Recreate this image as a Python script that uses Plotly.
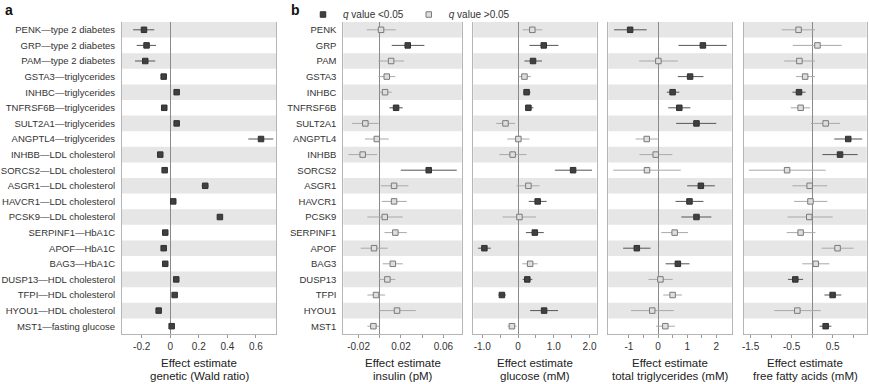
import plotly.graph_objects as go

# ---------------- data ----------------
labels_a = ["PENK—type 2 diabetes", "GRP—type 2 diabetes", "PAM—type 2 diabetes",
            "GSTA3—triglycerides", "INHBC—triglycerides", "TNFRSF6B—triglycerides",
            "SULT2A1—triglycerides", "ANGPTL4—triglycerides", "INHBB—LDL cholesterol",
            "SORCS2—LDL cholesterol", "ASGR1—LDL cholesterol", "HAVCR1—LDL cholesterol",
            "PCSK9—LDL cholesterol", "SERPINF1—HbA1C", "APOF—HbA1C", "BAG3—HbA1C",
            "DUSP13—HDL cholesterol", "TFPI—HDL cholesterol", "HYOU1—HDL cholesterol",
            "MST1—fasting glucose"]
genes = ["PENK", "GRP", "PAM", "GSTA3", "INHBC", "TNFRSF6B", "SULT2A1", "ANGPTL4", "INHBB",
         "SORCS2", "ASGR1", "HAVCR1", "PCSK9", "SERPINF1", "APOF", "BAG3", "DUSP13", "TFPI",
         "HYOU1", "MST1"]

# panel a: genetic (Wald ratio)
wald_est = [-0.184, -0.166, -0.175, -0.046, 0.045, -0.042, 0.045, 0.636, -0.070, -0.039,
            0.245, 0.021, 0.348, -0.035, -0.046, -0.035, 0.042, 0.031, -0.081, 0.010]
wald_lo = [-0.26, -0.235, -0.247, -0.05, 0.04, -0.046, 0.04, 0.547, -0.075, -0.043,
           0.22, 0.017, 0.343, -0.039, -0.05, -0.039, 0.038, 0.027, -0.085, 0.006]
wald_hi = [-0.112, -0.10, -0.105, -0.042, 0.05, -0.038, 0.05, 0.722, -0.065, -0.035,
           0.27, 0.025, 0.353, -0.031, -0.042, -0.031, 0.046, 0.035, -0.077, 0.014]
wald_sig = [1] * 20

# insulin (pM)
ins_est = [0.0012, 0.0264, 0.0107, 0.0066, 0.0050, 0.0154, -0.0136, -0.0028, -0.0161, 0.0462,
           0.0135, 0.0135, 0.0047, 0.0147, -0.0054, 0.0123, 0.0072, -0.0035, 0.0163, -0.0060]
ins_lo = [-0.0123, 0.0113, -0.0013, -0.0013, 0.0003, 0.0091, -0.0261, -0.0139, -0.0296, 0.0198,
          0.0009, 0.0019, -0.0117, 0.0044, -0.0180, 0.0028, -0.0004, -0.0117, -0.0004, -0.0117]
ins_hi = [0.0151, 0.0421, 0.0229, 0.0147, 0.0113, 0.0217, -0.0010, 0.0085, -0.0025, 0.0726,
          0.0270, 0.0255, 0.0217, 0.0255, 0.0075, 0.0217, 0.0147, 0.0050, 0.0340, -0.0004]
ins_sig = [0, 1, 0, 0, 0, 1, 0, 0, 0, 1, 0, 0, 0, 0, 0, 0, 0, 0, 0, 0]

# glucose (mM)
glu_est = [0.40, 0.72, 0.42, 0.18, 0.24, 0.29, -0.35, 0.01, -0.15, 1.54,
           0.29, 0.55, 0.04, 0.47, -0.94, 0.34, 0.26, -0.45, 0.73, -0.17]
glu_lo = [0.13, 0.32, 0.18, 0.01, 0.15, 0.20, -0.61, -0.30, -0.52, 1.03,
          -0.04, 0.30, -0.43, 0.22, -1.12, 0.12, 0.13, -0.55, 0.34, -0.29]
glu_hi = [0.68, 1.13, 0.67, 0.36, 0.35, 0.43, -0.08, 0.32, 0.24, 2.07,
          0.60, 0.80, 0.50, 0.72, -0.76, 0.55, 0.40, -0.34, 1.12, -0.04]
glu_sig = [0, 1, 1, 0, 1, 1, 0, 0, 0, 1, 0, 1, 0, 1, 1, 0, 1, 1, 1, 0]

# total triglycerides (mM)
tg_est = [-0.96, 1.54, 0.01, 1.10, 0.50, 0.73, 1.32, -0.39, -0.08, -0.38,
          1.47, 1.08, 1.32, 0.57, -0.73, 0.68, 0.08, 0.50, -0.20, 0.25]
tg_lo = [-1.51, 0.70, -0.65, 0.68, 0.30, 0.35, 0.62, -0.77, -0.64, -1.54,
         1.00, 0.60, 0.80, 0.11, -1.20, 0.26, -0.33, 0.18, -0.93, -0.07]
tg_hi = [-0.39, 2.36, 0.68, 1.56, 0.73, 1.11, 2.00, -0.01, 0.49, 0.78,
         1.95, 1.56, 1.83, 1.03, -0.26, 1.08, 0.50, 0.82, 0.54, 0.58]
tg_sig = [1, 1, 0, 1, 1, 1, 1, 0, 0, 0, 1, 1, 1, 0, 1, 1, 0, 0, 0, 0]

# free fatty acids (mM)
ffa_est = [-0.33, 0.13, -0.31, -0.17, -0.32, -0.28, 0.33, 0.88, 0.68, -0.61,
           -0.06, -0.04, -0.07, -0.28, 0.62, 0.09, -0.41, 0.50, -0.36, 0.33]
ffa_lo = [-0.74, -0.47, -0.68, -0.39, -0.48, -0.52, -0.03, 0.54, 0.25, -1.54,
          -0.48, -0.44, -0.60, -0.62, 0.23, -0.24, -0.59, 0.30, -0.92, 0.18]
ffa_hi = [0.07, 0.72, 0.07, 0.07, -0.16, -0.05, 0.68, 1.22, 1.11, 0.33,
          0.37, 0.37, 0.50, 0.08, 1.01, 0.42, -0.22, 0.71, 0.21, 0.47]
ffa_sig = [0, 0, 0, 0, 1, 0, 0, 1, 1, 0, 0, 0, 0, 0, 0, 0, 1, 1, 0, 1]

title_line1 = "Effect estimate"
title_line2 = ["genetic (Wald ratio)", "insulin (pM)", "glucose (mM)",
               "total triglycerides (mM)", "free fatty acids (mM)"]
tickvals = [[-0.2, 0, 0.2, 0.4, 0.6],
            [-0.02, 0, 0.02, 0.04, 0.06],
            [-1.0, -0.5, 0, 0.5, 1.0, 1.5, 2.0],
            [-1, -0.5, 0, 0.5, 1, 1.5, 2],
            [-1.5, -1.0, -0.5, 0, 0.5, 1.0]]
ticktext = [["-0.2", "0", "0.2", "0.4", "0.6"],
            ["-0.02", "", "0.02", "", "0.06"],
            ["-1.0", "", "0", "", "1.0", "", "2.0"],
            ["-1", "", "0", "", "1", "", "2"],
            ["-1.5", "", "-0.5", "", "0.5", ""]]
legend_names = ["<i>q</i> value &lt;0.05", "<i>q</i> value &gt;0.05"]

# ---------------- layout / styling ----------------
W, H = 869, 384
FONT = "Liberation Sans"
panels = [(wald_est, wald_lo, wald_hi, wald_sig),
          (ins_est, ins_lo, ins_hi, ins_sig),
          (glu_est, glu_lo, glu_hi, glu_sig),
          (tg_est, tg_lo, tg_hi, tg_sig),
          (ffa_est, ffa_lo, ffa_hi, ffa_sig)]
xdomains_px = [(122, 276), (343.3, 461.7), (473.3, 596.7), (608.3, 731.7), (744, 866.7)]
xranges = [[-0.338, 0.741], [-0.0344, 0.0773], [-1.25, 2.2], [-1.71, 2.53], [-1.66, 1.33]]
ydom = [1 - 334 / H, 1 - 22 / H]

fig = go.Figure()
rows = list(range(len(genes)))
legend_done = set()
for i, (est, lo, hi, sig) in enumerate(panels):
    xa = "x" if i == 0 else f"x{i+1}"
    ya = "y" if i == 0 else f"y{i+1}"
    for s in (1, 0):
        idx = [k for k in rows if sig[k] == s]
        if not idx:
            continue
        xs = [est[k] for k in idx]
        ys = [rows[k] for k in idx]
        plus = [hi[k] - est[k] for k in idx]
        minus = [est[k] - lo[k] for k in idx]
        show = (i > 0 and s not in legend_done)
        if show:
            legend_done.add(s)
        fig.add_trace(go.Scatter(
            x=xs, y=ys, mode="markers", xaxis=xa, yaxis=ya,
            name=legend_names[0] if s == 1 else legend_names[1],
            showlegend=show,
            marker=dict(symbol="square", size=5.5,
                        color="#404040" if s == 1 else "#dedede",
                        line=dict(color="#303030" if s == 1 else "#7a7a7a", width=1)),
            error_x=dict(type="data", symmetric=False, array=plus, arrayminus=minus,
                         color="#555555" if s == 1 else "#a8a8a8", thickness=1, width=0),
            hoverinfo="skip",
        ))

shapes = []
annotations = []
layout_axes = {}
for i in range(5):
    xk = "xaxis" if i == 0 else f"xaxis{i+1}"
    yk = "yaxis" if i == 0 else f"yaxis{i+1}"
    xa = "x" if i == 0 else f"x{i+1}"
    ya = "y" if i == 0 else f"y{i+1}"
    x0, x1 = xdomains_px[i]
    layout_axes[xk] = dict(
        domain=[x0 / W, x1 / W], anchor=ya, range=xranges[i], automargin=False,
        tickvals=tickvals[i], ticktext=ticktext[i], ticks="outside", ticklen=3,
        tickcolor="#9a9a9a", showgrid=False, showline=True, linecolor="#b5b5b5",
        zeroline=True, zerolinecolor="#8a8a8a", zerolinewidth=1,
        tickfont=dict(size=10, color="#333333", family=FONT),
    )
    ya_cfg = dict(
        domain=ydom, anchor=xa, range=[19.5, -0.5], showgrid=False, zeroline=False,
        automargin=False, showline=True, mirror=True, linecolor="#b5b5b5", ticks="",
        tickfont=dict(size=9.5, color="#333333", family=FONT),
    )
    if i == 0:
        ya_cfg.update(tickvals=rows, ticktext=labels_a, showticklabels=True, ticklabelstandoff=4)
    elif i == 1:
        ya_cfg.update(tickvals=rows, ticktext=genes, showticklabels=True, ticklabelstandoff=4)
    else:
        ya_cfg.update(showticklabels=False)
    layout_axes[yk] = ya_cfg
    for r in range(0, 20, 2):
        shapes.append(dict(type="rect", xref=f"{xa} domain", yref=ya, x0=0, x1=1,
                           y0=r - 0.5, y1=r + 0.5, fillcolor="#e6e6e6",
                           line=dict(width=0), layer="below"))
    cx = (x0 + x1) / 2 / W
    annotations.append(dict(text=title_line1, x=cx, y=1 - 362.5 / H, xref="paper", yref="paper",
                            xanchor="center", yanchor="middle", showarrow=False,
                            font=dict(size=11.5, color="#222222", family=FONT)))
    annotations.append(dict(text=title_line2[i], x=cx, y=1 - 375.5 / H, xref="paper", yref="paper",
                            xanchor="center", yanchor="middle", showarrow=False,
                            font=dict(size=11.5, color="#222222", family=FONT)))

annotations += [
    dict(text="<b>a</b>", x=3 / W, y=1 - 10 / H, xref="paper", yref="paper",
         xanchor="left", yanchor="middle", showarrow=False,
         font=dict(size=14, color="#111111", family=FONT)),
    dict(text="<b>b</b>", x=289 / W, y=1 - 10 / H, xref="paper", yref="paper",
         xanchor="left", yanchor="middle", showarrow=False,
         font=dict(size=14, color="#111111", family=FONT)),
]

fig.update_layout(
    width=W, height=H, margin=dict(l=0, r=0, t=0, b=0, autoexpand=False),
    paper_bgcolor="white", plot_bgcolor="white",
    font=dict(family=FONT, size=10, color="#333333"),
    shapes=shapes, annotations=annotations,
    showlegend=True,
    legend=dict(orientation="h", x=303 / W, y=1.0, xanchor="left", yanchor="top",
                font=dict(size=10, color="#333333", family=FONT),
                itemwidth=30, bgcolor="rgba(0,0,0,0)", tracegroupgap=0),
    **layout_axes,
)

fig.write_html("out.html", config={"displayModeBar": False},
               post_script="document.body.style.margin='0';document.body.style.overflow='hidden';")
